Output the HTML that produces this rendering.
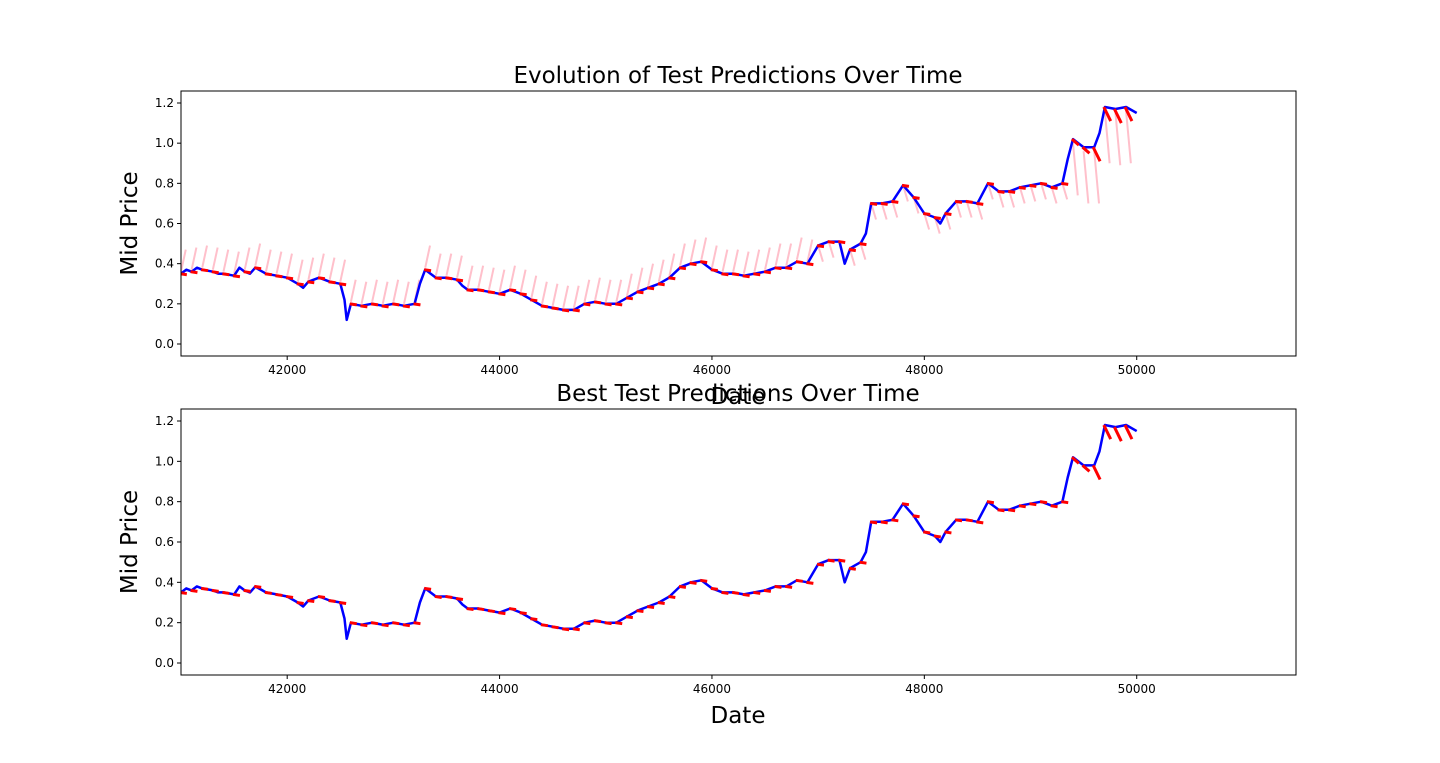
<!DOCTYPE html>
<html><head><meta charset="utf-8"><style>
body{margin:0;background:#fff;}
svg text{font-family:"DejaVu Sans","Liberation Sans",sans-serif;}
</style></head><body>
<svg id="chart" width="1440" height="758" xmlns="http://www.w3.org/2000/svg"></svg>
<script>
const dates=[41000,41050,41100,41150,41200,41300,41350,41400,41500,41550,41600,41650,41700,41800,41900,42000,42100,42150,42200,42300,42400,42500,42540,42560,42600,42700,42800,42900,43000,43100,43200,43250,43300,43400,43500,43600,43650,43700,43800,43900,44000,44100,44200,44300,44400,44500,44600,44700,44800,44900,45000,45100,45200,45300,45400,45500,45600,45700,45800,45900,46000,46100,46200,46300,46400,46500,46600,46700,46800,46900,47000,47100,47200,47250,47300,47400,47450,47500,47600,47700,47800,47900,48000,48100,48150,48200,48300,48400,48500,48600,48700,48800,48900,49000,49100,49200,49300,49350,49400,49500,49600,49650,49700,49800,49900,50000];
const prices=[0.35,0.37,0.36,0.38,0.37,0.36,0.35,0.35,0.34,0.38,0.36,0.35,0.38,0.35,0.34,0.33,0.30,0.28,0.31,0.33,0.31,0.30,0.22,0.12,0.20,0.19,0.20,0.19,0.20,0.19,0.20,0.30,0.37,0.33,0.33,0.32,0.29,0.27,0.27,0.26,0.25,0.27,0.25,0.22,0.19,0.18,0.17,0.17,0.20,0.21,0.20,0.20,0.23,0.26,0.28,0.30,0.33,0.38,0.40,0.41,0.37,0.35,0.35,0.34,0.35,0.36,0.38,0.38,0.41,0.40,0.49,0.51,0.51,0.40,0.47,0.50,0.55,0.70,0.70,0.71,0.79,0.73,0.65,0.63,0.60,0.65,0.71,0.71,0.70,0.80,0.76,0.76,0.78,0.79,0.80,0.78,0.80,0.92,1.02,0.98,0.98,1.05,1.18,1.17,1.18,1.15];
const xTicks=[42000,44000,46000,48000,50000];
const yTicks=[0.0,0.2,0.4,0.6,0.8,1.0,1.2];
const yTickLabels=["0.0","0.2","0.4","0.6","0.8","1.0","1.2"];
const predDates=[41000,41100,41200,41300,41400,41500,41600,41700,41800,41900,42000,42100,42200,42300,42400,42500,42600,42700,42800,42900,43000,43100,43200,43300,43400,43500,43600,43700,43800,43900,44000,44100,44200,44300,44400,44500,44600,44700,44800,44900,45000,45100,45200,45300,45400,45500,45600,45700,45800,45900,46000,46100,46200,46300,46400,46500,46600,46700,46800,46900,47000,47100,47200,47300,47400,47500,47600,47700,47800,47900,48000,48100,48200,48300,48400,48500,48600,48700,48800,48900,49000,49100,49200,49300,49400,49500,49600,49700,49800,49900];

const NS="http://www.w3.org/2000/svg";
const svg=document.getElementById('chart');
function mk(tag,attrs,parent){const e=document.createElementNS(NS,tag);for(const k in attrs)e.setAttribute(k,attrs[k]);(parent||svg).appendChild(e);return e;}
function interp(d){for(let i=0;i<dates.length-1;i++){if(d>=dates[i]&&d<=dates[i+1]){const t=(d-dates[i])/(dates[i+1]-dates[i]);return prices[i]+t*(prices[i+1]-prices[i]);}}return prices[prices.length-1];}
const X0=181,X1=1296,XMIN=41000,XMAX=51500;
function xs(d){return X0+(d-XMIN)/(XMAX-XMIN)*(X1-X0);}

function panel(top,bottom,title,withPink,idx){
  const g=mk('g',{});
  
  
  const y0=bottom-12, y12=top+12;
  const ys=v=>y0-(v/1.2)*(y0-y12);
  const clipId='clip'+idx;
  const cp=mk('clipPath',{id:clipId},g);mk('rect',{x:X0,y:top,width:X1-X0,height:bottom-top},cp);
  const plot=mk('g',{'clip-path':'url(#'+clipId+')'},g);
  if(withPink){
    predDates.forEach(d=>{
      const v=interp(d);
      let a,b;
      if(d<47000){a=v+0.01;b=v+0.12;} else if(d<49400){a=v+0.0;b=v-0.08;} else {a=v-0.02;b=v-0.28;}
      const l=mk('line',{x1:xs(d),y1:ys(a),x2:xs(d+45),y2:ys(b),stroke:'#ffc0cb','stroke-width':2},plot);
      
      
    });
  }
  const pts=dates.map((d,i)=>xs(d).toFixed(1)+','+ys(prices[i]).toFixed(1)).join(' ');
  const pl=mk('polyline',{points:pts,fill:'none',stroke:'#0000ff','stroke-width':2.5,'stroke-linejoin':'round'},plot);
  
  
  predDates.forEach(d=>{
    const v=interp(d);
    const drop=d>=49600?0.07:(d>=49400?0.03:0.005);
    const l=mk('line',{x1:xs(d-10),y1:ys(v),x2:xs(d+55),y2:ys(v-drop),stroke:'#ff0000','stroke-width':3},plot);
    
    
  });
  const fr=mk('rect',{x:X0,y:top,width:X1-X0,height:bottom-top,fill:'none',stroke:'#000','stroke-width':1},g);
  
  
  xTicks.forEach(t=>{
    mk('line',{x1:xs(t),y1:bottom,x2:xs(t),y2:bottom+4,stroke:'#000'},g);
    const tx=mk('text',{x:xs(t),y:bottom+18,'font-size':12,'text-anchor':'middle'},g);tx.textContent=t;
    
    
  });
  yTicks.forEach((t,i)=>{
    mk('line',{x1:X0-4,y1:ys(t),x2:X0,y2:ys(t),stroke:'#000'},g);
    const tx=mk('text',{x:X0-7,y:ys(t)+4,'font-size':12,'text-anchor':'end'},g);tx.textContent=yTickLabels[i];
    
    
  });
  const tt=mk('text',{x:738,y:top-8,'font-size':23,'text-anchor':'middle'},g);tt.textContent=title;
  
  
  const xl=mk('text',{x:738,y:bottom+48,'font-size':23,'text-anchor':'middle'},g);xl.textContent='Date';
  
  
  const cy=(top+bottom)/2;
  const yl=mk('text',{x:137,y:cy,'font-size':23,'text-anchor':'middle',transform:'rotate(-90 137 '+cy+')'},g);yl.textContent='Mid Price';
  
  
}
panel(91,356,'Evolution of Test Predictions Over Time',true,1);
panel(409,675,'Best Test Predictions Over Time',false,2);
</script>
</body></html>
